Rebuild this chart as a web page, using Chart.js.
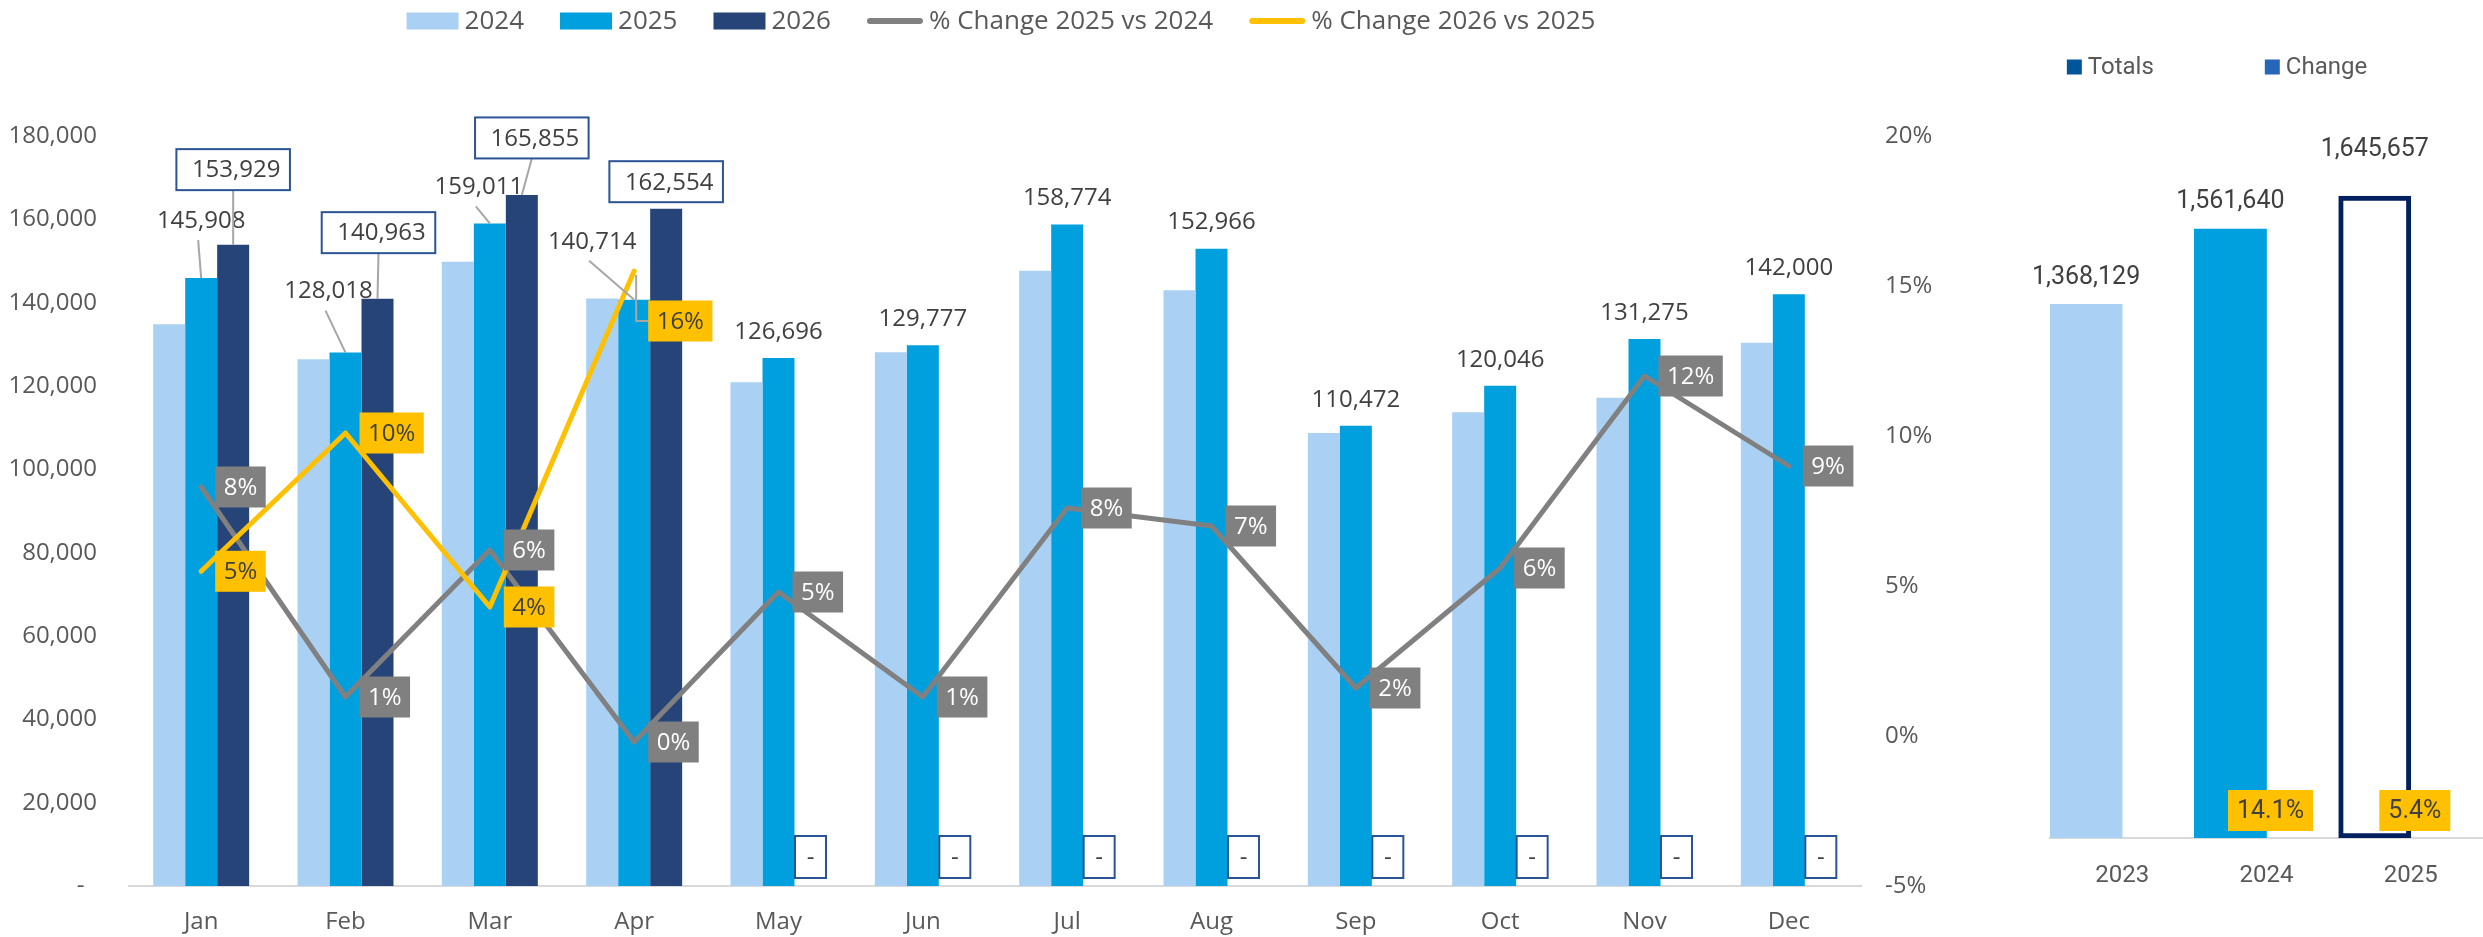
<!DOCTYPE html>
<html>
<head>
  <title>Monthly Totals 2024-2026</title>
  <script src="https://cdn.jsdelivr.net/npm/chart.js"></script>
  <style>
    body { margin: 0; background: #fff; width: 2483px; height: 937px; overflow: hidden; position: relative; }
    #mainChart { position: absolute; left: 0; top: 0; }
    #totalsChart { position: absolute; left: 1960px; top: 0; }
  </style>
</head>
<body>
  <canvas id="mainChart" width="1960" height="937"></canvas>
  <canvas id="totalsChart" width="523" height="937"></canvas>

  <script>
    // monthly data
    const months = ["Jan", "Feb", "Mar", "Apr", "May", "Jun", "Jul", "Aug", "Sep", "Oct", "Nov", "Dec"];
    const sales2024 = [134800, 126400, 149800, 141000, 120900, 128100, 147650, 143000, 108700, 113700, 117200, 130390];
    const sales2025 = [145908, 128018, 159011, 140714, 126696, 129777, 158774, 152966, 110472, 120046, 131275, 142000];
    const sales2026 = [153929, 140963, 165855, 162554, 0, 0, 0, 0, 0, 0, 0, 0];
    const chg25vs24 = [8.3, 1.3, 6.2, -0.2, 4.8, 1.3, 7.6, 7.0, 1.6, 5.6, 12.0, 9.0];
    const chg26vs25 = [5.49, 10.1, 4.3, 15.5, null, null, null, null, null, null, null, null];
    const leftTicks = [0, 20000, 40000, 60000, 80000, 100000, 120000, 140000, 160000, 180000];
    const rightTicks = [-5, 0, 5, 10, 15, 20];

    // yearly totals
    const years = ["2023", "2024", "2025"];
    const totals = [1368129, 1561640, 1645657];
    const totalsChange = [null, 14.1, 5.4];

    const LIGHT = "#AAD0F3", BLUE = "#00A0DF", DARK = "#264478";
    const GREY = "#808080", YELLOW = "#FFC000", NAVY = "#002060";
    const TXT = "#404040", AXIS = "#595959", LEADER = "#A6A6A6", BOXLINE = "#2B5494";

    // label tweaks where Excel labels were dragged (dx, dy from bar top)
    const off25 = [[0, -57], [-17, -61], [-11, -36], [-42, -58]];
    const off26 = [[0, -75], [1, -66], [10, -57], [0, -27]];
    const offYellow = [0, 0, 0, 50];
    const totalLift = [-27, -27, -46];

    const fmt = v => v.toLocaleString("en-US");
    const pct = v => Math.round(v) + "%";

    Chart.defaults.font.family = '"Open Sans", sans-serif';
    Chart.defaults.color = AXIS;

    function line(ctx, pts) {
      ctx.beginPath();
      ctx.moveTo(pts[0][0], pts[0][1]);
      pts.slice(1).forEach(p => ctx.lineTo(p[0], p[1]));
      ctx.stroke();
    }

    function tag(ctx, text, left, cy, bg, fg) {
      const w = ctx.measureText(text).width + 17, h = 41;
      ctx.fillStyle = bg;
      ctx.fillRect(left, cy - h / 2, w, h);
      ctx.fillStyle = fg;
      ctx.textAlign = "center";
      ctx.fillText(text, left + w / 2, cy + 1);
    }

    const legendPlugin = {
      id: "boxLegend",
      afterDraw(chart, args, opts) {
        const ctx = chart.ctx;
        ctx.save();
        ctx.font = opts.font;
        ctx.textBaseline = "middle";
        ctx.textAlign = "left";
        const widths = opts.items.map(it => it.w + opts.gap + ctx.measureText(it.text).width);
        const total = widths.reduce((a, b) => a + b, 0) + opts.sep * (widths.length - 1);
        let x = opts.cx - total / 2;
        opts.items.forEach((it, i) => {
          if (it.line) {
            ctx.strokeStyle = it.color;
            ctx.lineWidth = 6;
            ctx.lineCap = "round";
            line(ctx, [[x + 3, opts.cy], [x + it.w - 3, opts.cy]]);
          } else {
            ctx.fillStyle = it.color;
            ctx.fillRect(x, opts.cy - it.h / 2, it.w, it.h);
          }
          ctx.fillStyle = AXIS;
          ctx.fillText(it.text, x + it.w + opts.gap, opts.cy + 1);
          x += widths[i] + opts.sep;
        });
        ctx.restore();
      }
    };

    const mainLabels = {
      id: "mainLabels",
      afterDatasetsDraw(chart) {
        const ctx = chart.ctx;
        const m25 = chart.getDatasetMeta(1), m26 = chart.getDatasetMeta(2);
        const mg = chart.getDatasetMeta(3), my = chart.getDatasetMeta(4);
        ctx.save();
        ctx.font = '24px "Open Sans"';
        ctx.textBaseline = "middle";
        ctx.strokeStyle = LEADER;
        ctx.lineWidth = 2;

        // 2025 values
        m25.data.forEach((bar, i) => {
          const off = off25[i] || [0, -26];
          const lx = bar.x + off[0], ly = bar.y + off[1];
          if (off25[i]) line(ctx, [[lx - 3, ly + 19], [bar.x, bar.y]]);
          ctx.fillStyle = TXT;
          ctx.textAlign = "center";
          ctx.fillText(fmt(sales2025[i]), lx, ly);
        });

        // 2026 values in boxes
        m26.data.forEach((bar, i) => {
          const v = sales2026[i];
          const txt = v ? fmt(v) : "-";
          const w = v ? ctx.measureText(txt).width + 25 : 31, h = v ? 41 : 42;
          let cx = bar.x, cy;
          if (v) {
            const off = off26[i] || [0, -26];
            cx += off[0];
            cy = bar.y + off[1];
            if (bar.y - (cy + h / 2) > 10) {
              ctx.strokeStyle = LEADER;
              line(ctx, [[cx, cy + h / 2], [bar.x, bar.y]]);
            }
          } else {
            cy = chart.chartArea.bottom - 8 - h / 2;
          }
          ctx.fillStyle = "#fff";
          ctx.fillRect(cx - w / 2, cy - h / 2, w, h);
          ctx.strokeStyle = BOXLINE;
          ctx.strokeRect(cx - w / 2, cy - h / 2, w, h);
          ctx.fillStyle = TXT;
          ctx.textAlign = "center";
          ctx.fillText(txt, v ? cx + 3 : cx, cy + 1);
        });

        // % change labels
        mg.data.forEach((pt, i) => {
          tag(ctx, pct(chg25vs24[i]), pt.x + 14, pt.y, GREY, "#fff");
        });
        my.data.forEach((pt, i) => {
          if (chg26vs25[i] == null) return;
          const dy = offYellow[i] || 0;
          if (dy) {
            ctx.strokeStyle = LEADER;
            line(ctx, [[pt.x + 2, pt.y + 4], [pt.x + 2, pt.y + dy], [pt.x + 14, pt.y + dy]]);
          }
          tag(ctx, pct(chg26vs25[i]), pt.x + 14, pt.y + dy, YELLOW, TXT);
        });
        ctx.restore();
      }
    };

    new Chart(document.getElementById("mainChart"), {
      type: "bar",
      data: {
        labels: months,
        datasets: [
          { label: "2024", data: sales2024, backgroundColor: LIGHT, order: 3 },
          { label: "2025", data: sales2025, backgroundColor: BLUE, order: 3 },
          { label: "2026", data: sales2026, backgroundColor: DARK, order: 3 },
          {
            type: "line", label: "% Change 2025 vs 2024", data: chg25vs24, yAxisID: "y1",
            borderColor: GREY, borderWidth: 5, pointRadius: 0, tension: 0,
            borderJoinStyle: "round", borderCapStyle: "round", order: 2
          },
          {
            type: "line", label: "% Change 2026 vs 2025", data: chg26vs25, yAxisID: "y1",
            borderColor: YELLOW, borderWidth: 5, pointRadius: 0, tension: 0,
            borderJoinStyle: "round", borderCapStyle: "round", order: 1
          }
        ]
      },
      options: {
        responsive: false,
        animation: false,
        layout: { padding: { top: 136, left: 0, right: 0, bottom: 0 } },
        datasets: { bar: { categoryPercentage: 0.665, barPercentage: 1 } },
        plugins: {
          legend: { display: false },
          tooltip: { enabled: false },
          boxLegend: {
            font: '26px "Open Sans"', cx: 1001, cy: 21, gap: 6, sep: 36,
            items: [
              { text: "2024", color: LIGHT, w: 52, h: 17 },
              { text: "2025", color: BLUE, w: 52, h: 17 },
              { text: "2026", color: DARK, w: 52, h: 17 },
              { text: "% Change 2025 vs 2024", color: GREY, w: 56, line: true },
              { text: "% Change 2026 vs 2025", color: YELLOW, w: 56, line: true }
            ]
          }
        },
        scales: {
          x: {
            grid: { display: false, drawTicks: false },
            border: { color: "#D9D9D9", width: 2 },
            ticks: { font: { size: 24 }, color: AXIS, padding: 22, maxRotation: 0 },
            afterFit: s => { s.height = 51; }
          },
          y: {
            position: "left", min: 0, max: 180000,
            grid: { display: false, drawTicks: false },
            border: { display: false },
            ticks: { font: { size: 24 }, color: AXIS, padding: 32, callback: v => v === 0 ? "-  " : fmt(v) },
            afterBuildTicks: s => { s.ticks = leftTicks.map(v => ({ value: v })); },
            afterFit: s => { s.width = 129; }
          },
          y1: {
            position: "right", min: -5, max: 20,
            grid: { display: false, drawTicks: false },
            border: { display: false },
            ticks: { font: { size: 24 }, color: AXIS, padding: 24, callback: v => v + "%" },
            afterBuildTicks: s => { s.ticks = rightTicks.map(v => ({ value: v })); },
            afterFit: s => { s.width = 99; }
          }
        }
      },
      plugins: [legendPlugin, mainLabels]
    });

    const totalsLabels = {
      id: "totalsLabels",
      afterDatasetsDraw(chart) {
        const ctx = chart.ctx;
        ctx.save();
        ctx.font = "25px Roboto";
        ctx.textBaseline = "middle";
        ctx.textAlign = "center";
        chart.getDatasetMeta(0).data.forEach((bar, i) => {
          ctx.fillStyle = TXT;
          ctx.fillText(fmt(totals[i]), bar.x, bar.y + totalLift[i]);
        });
        chart.getDatasetMeta(1).data.forEach((el, i) => {
          if (totalsChange[i] == null) return;
          const txt = totalsChange[i].toFixed(1) + "%";
          const w = ctx.measureText(txt).width + 18, h = 41;
          const cx = el.x - el.width / 2 + 4;
          const cy = chart.chartArea.bottom - 7 - h / 2;
          ctx.fillStyle = YELLOW;
          ctx.fillRect(cx - w / 2, cy - h / 2, w, h);
          ctx.fillStyle = TXT;
          ctx.fillText(txt, cx, cy + 1);
        });
        ctx.restore();
      }
    };

    new Chart(document.getElementById("totalsChart"), {
      type: "bar",
      data: {
        labels: years,
        datasets: [
          {
            label: "Totals", data: totals,
            backgroundColor: [LIGHT, BLUE, "#FFFFFF"],
            borderColor: [LIGHT, BLUE, NAVY],
            borderWidth: [0, 0, 5],
            borderSkipped: false
          },
          { label: "Change", data: totalsChange, yAxisID: "yc", backgroundColor: "rgba(0,0,0,0)" }
        ]
      },
      options: {
        responsive: false,
        animation: false,
        layout: { padding: { top: 136, left: 90, right: 0, bottom: 0 } },
        datasets: { bar: { categoryPercentage: 1, barPercentage: 1 } },
        plugins: {
          legend: { display: false },
          tooltip: { enabled: false },
          boxLegend: {
            font: "24px Roboto", cx: 257, cy: 67, gap: 6, sep: 111,
            items: [
              { text: "Totals", color: "#00559B", w: 15, h: 15 },
              { text: "Change", color: "#2765B9", w: 15, h: 15 }
            ]
          }
        },
        scales: {
          x: {
            grid: { display: false, drawTicks: false },
            border: { color: "#D9D9D9", width: 2 },
            ticks: { font: { family: "Roboto", size: 24 }, color: AXIS, padding: 24 },
            afterFit: s => { s.height = 99; }
          },
          y: { display: false, min: 0, max: 1800000 },
          yc: { display: false, min: 0, max: 100 }
        }
      },
      plugins: [legendPlugin, totalsLabels]
    });
  </script>
</body>
</html>
